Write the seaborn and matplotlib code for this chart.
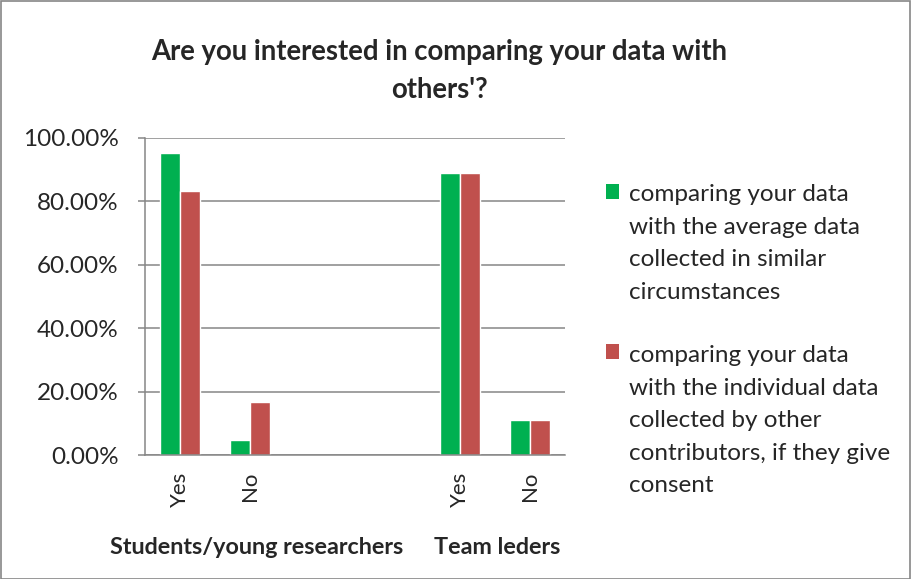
import pandas as pd
import matplotlib.pyplot as plt
import seaborn as sns
from matplotlib.patches import Patch, Rectangle
from matplotlib.legend_handler import HandlerPatch
from matplotlib.ticker import PercentFormatter

# category slots (two blank slots separate the groups, as in the original sheet)
slots = ["S-Yes", "S-No", "S-gap1", "S-gap2", "T-Yes", "T-No"]
slot_labels = ["Yes", "No", "", "", "Yes", "No"]
data_slots = ["S-Yes", "S-No", "T-Yes", "T-No"]
avg_vals = [0.9524, 0.0476, 0.8889, 0.1111]
ind_vals = [0.8333, 0.1667, 0.8889, 0.1111]
series = [
    "comparing your data\nwith the average data\ncollected in similar\ncircumstances",
    "comparing your data\nwith the individual data\ncollected by other\ncontributors, if they give\nconsent",
]
colors = ["#00B050", "#C0504D"]

df = pd.DataFrame({
    "slot": data_slots * 2,
    "value": avg_vals + ind_vals,
    "series": [series[0]] * 4 + [series[1]] * 4,
})

sns.set_style("white")
plt.rcParams["font.family"] = ["Lato", "DejaVu Sans"]
grey = "#868686"

fig = plt.figure(figsize=(9.11, 5.79), dpi=100)
ax = fig.add_axes([145 / 911, 1 - 455 / 579, 420 / 911, 317 / 579])

sns.barplot(data=df, x="slot", y="value", hue="series", order=slots,
            hue_order=series, palette=colors, width=0.57, gap=0,
            saturation=1, legend=False, ax=ax)

ax.set_xlim(-0.5, 5.5)
ax.set_ylim(0, 1)
ax.set_yticks([0, 0.2, 0.4, 0.6, 0.8, 1.0])
ax.yaxis.set_major_formatter(PercentFormatter(1.0, decimals=2))
ax.grid(axis="y", color=grey, lw=1.1)
ax.set_axisbelow(True)
for s in ["top", "right"]:
    ax.spines[s].set_visible(False)
for s in ["left", "bottom"]:
    ax.spines[s].set_color(grey)
    ax.spines[s].set_linewidth(1.1)

ax.set_xticks(range(len(slots)))
ax.set_xticklabels(slot_labels, rotation=90)
ax.set_xticks([i - 0.5 for i in range(len(slots) + 1)], minor=True)
ax.tick_params(axis="x", which="major", length=0, pad=12, labelsize=16)
ax.tick_params(axis="x", which="minor", length=5, width=1.1, color=grey, direction="out")
ax.tick_params(axis="y", length=5, width=1.1, color=grey, direction="out",
               pad=14, labelsize=17.5, left=True)
ax.set_xlabel("")
ax.set_ylabel("")

fig.text(439 / 911, 1 - 71 / 579,
         "Are you interested in comparing your data with\nothers'?",
         ha="center", va="center", fontsize=19.8, fontweight="bold",
         linespacing=1.6)

fig.text(257 / 911, 1 - 548 / 579, "Students/young researchers",
         ha="center", va="center", fontsize=16.8, fontweight="bold")
fig.text(497 / 911, 1 - 548 / 579, "Team leders",
         ha="center", va="center", fontsize=16.8, fontweight="bold")

LS = 1.68


class TopSquare(HandlerPatch):
    def __init__(self, nlines):
        super().__init__()
        self.nlines = nlines

    def create_artists(self, legend, orig_handle, xdescent, ydescent,
                       width, height, fontsize, trans):
        shift = (self.nlines - 1) / 2 * fontsize * LS * 0.85
        p = Rectangle((-xdescent, -ydescent + shift), width, height,
                      facecolor=orig_handle.get_facecolor(), edgecolor="none",
                      transform=trans)
        return [p]


handles = [Patch(facecolor=c) for c in colors]
hmap = {handles[0]: TopSquare(4), handles[1]: TopSquare(5)}
leg = fig.legend(handles, series, handler_map=hmap, loc="upper left",
                 bbox_to_anchor=(606 / 911, 1 - 184 / 579), frameon=False,
                 fontsize=17.5, handlelength=0.55, handleheight=0.55,
                 handletextpad=0.4, labelspacing=1.75, borderpad=0,
                 borderaxespad=0)
for t in leg.get_texts():
    t.set_linespacing(LS)

fig.patches.append(Rectangle((0.5 / 911, 0.5 / 579), 909.5 / 911, 577.5 / 579,
                             transform=fig.transFigure, fill=False,
                             edgecolor=grey, lw=1.2))

fig.savefig("out.png", dpi=100, facecolor="white")
